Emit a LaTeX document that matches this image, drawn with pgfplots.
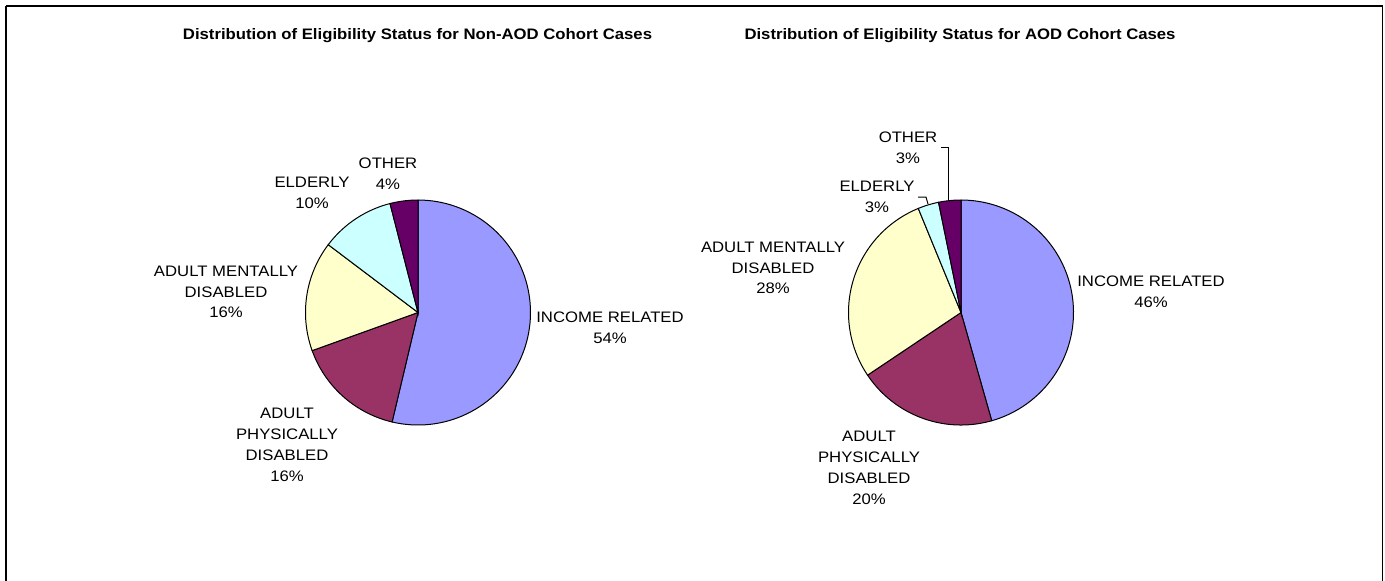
\documentclass[border=0pt]{standalone}
\usepackage{fontspec}
\setmainfont{Liberation Sans}[FakeStretch=1.1]
\usepackage{pgfplots}
\pgfplotsset{compat=1.18}

\definecolor{cIncome}{HTML}{9999FF}
\definecolor{cPhys}{HTML}{993366}
\definecolor{cMental}{HTML}{FFFFCC}
\definecolor{cElderly}{HTML}{CCFFFF}
\definecolor{cOther}{HTML}{660066}

% slice: {cx}{cy}{cumulative % from}{cumulative % to}{colour}; radius 112.5 px, clockwise from top
\newcommand{\pieslice}[5]{%
  \addplot[draw=black, line width=0.5pt, fill=#5, domain={90-3.6*#4}:{90-3.6*#3}, samples=80, variable=\t]
    ({#1+112.5*cos(\t)},{#2-112.5*sin(\t)}) -- (axis cs:#1,#2) -- cycle;}

\newcommand{\lab}{\fontsize{7.6}{10.4}\selectfont}
\newcommand{\ttl}{\fontsize{7.6}{9}\selectfont\bfseries}

\begin{document}
\begin{tikzpicture}
\begin{axis}[
  width=692.5pt, height=290pt, scale only axis,
  xmin=0, xmax=1385, ymin=0, ymax=580, y dir=reverse,
  hide axis, clip=false,
]
% frame
\draw[line width=0.9pt] (axis cs:6,6) -- (axis cs:1382.5,6) -- (axis cs:1382.5,585);
\draw[line width=0.9pt] (axis cs:6,6) -- (axis cs:6,585);

% titles
\node[font=\ttl] at (axis cs:417.5,36) {Distribution of Eligibility Status for Non-AOD Cohort Cases};
\node[font=\ttl] at (axis cs:960,36) {Distribution of Eligibility Status for AOD Cohort Cases};

% Non-AOD pie: Income 53.7, Adult phys. 15.8, Adult mental 15.8, Elderly 10.7, Other 4.0
\pieslice{418}{312.5}{0}{53.7}{cIncome}
\pieslice{418}{312.5}{53.7}{69.5}{cPhys}
\pieslice{418}{312.5}{69.5}{85.3}{cMental}
\pieslice{418}{312.5}{85.3}{96.0}{cElderly}
\pieslice{418}{312.5}{96.0}{100}{cOther}

% AOD pie: Income 45.6, Adult phys. 20.0, Adult mental 28.2, Elderly 3.0, Other 3.2
\pieslice{961}{312.5}{0}{45.6}{cIncome}
\pieslice{961}{312.5}{45.6}{65.6}{cPhys}
\pieslice{961}{312.5}{65.6}{93.8}{cMental}
\pieslice{961}{312.5}{93.8}{96.8}{cElderly}
\pieslice{961}{312.5}{96.8}{100}{cOther}

% labels left
\node[font=\lab, align=center] at (axis cs:610,327.5) {INCOME RELATED\\54\%};
\node[font=\lab, align=center] at (axis cs:287,445) {ADULT\\PHYSICALLY\\DISABLED\\16\%};
\node[font=\lab, align=center] at (axis cs:226,292) {ADULT MENTALLY\\DISABLED\\16\%};
\node[font=\lab, align=center] at (axis cs:312,193) {ELDERLY\\10\%};
\node[font=\lab, align=center] at (axis cs:388,173.5) {OTHER\\4\%};

% labels right
\node[font=\lab, align=center] at (axis cs:1151,291.5) {INCOME RELATED\\46\%};
\node[font=\lab, align=center] at (axis cs:869,468) {ADULT\\PHYSICALLY\\DISABLED\\20\%};
\node[font=\lab, align=center] at (axis cs:773,268) {ADULT MENTALLY\\DISABLED\\28\%};
\node[font=\lab, align=center] at (axis cs:877,197) {ELDERLY\\3\%};
\node[font=\lab, align=center] at (axis cs:908,147.5) {OTHER\\3\%};

% leader lines
\draw[line width=0.5pt] (axis cs:941,147) -- (axis cs:948,147) -- (axis cs:948,200.5);
\draw[line width=0.5pt] (axis cs:918,197) -- (axis cs:926,197) -- (axis cs:928,204);
\end{axis}
\pgfresetboundingbox
\path (current axis.south west) rectangle (current axis.north east);
\end{tikzpicture}
\end{document}
